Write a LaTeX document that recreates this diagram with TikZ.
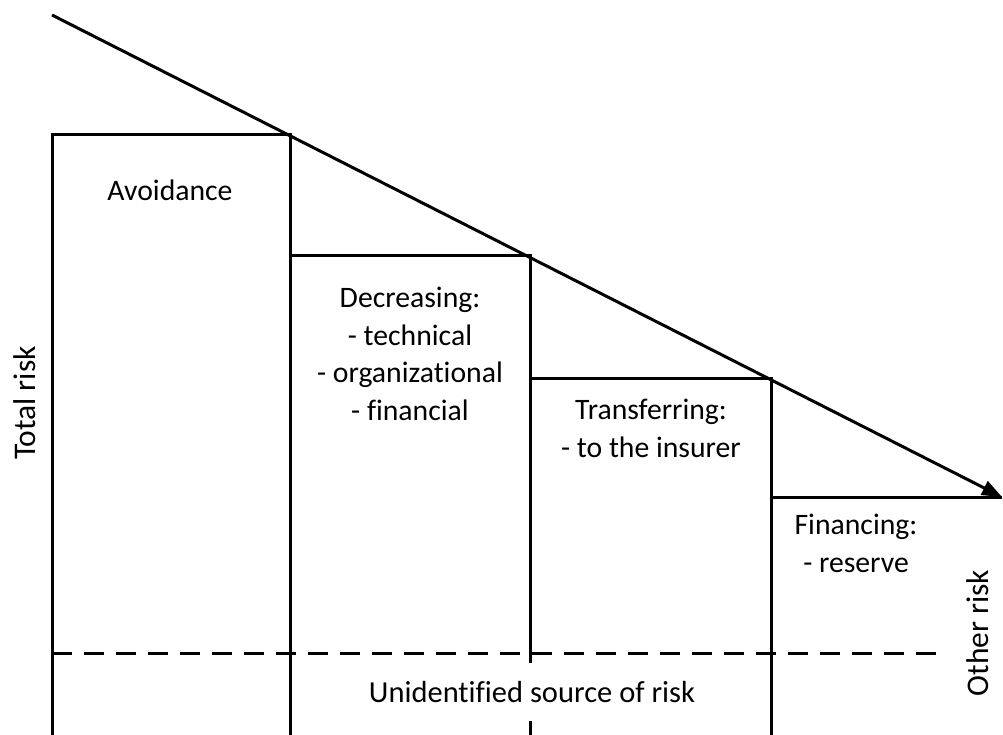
\documentclass[tikz,border=0pt]{standalone}
\usepackage{fontspec}
\setmainfont[Ligatures=NoCommon]{Carlito}
\usetikzlibrary{arrows.meta}
\begin{document}
\begin{tikzpicture}[x=1pt,y=-1pt,
  ln/.style={line width=3pt},
  lbl/.style={font=\fontsize{29.7}{37.5}\selectfont, align=center, inner sep=0pt},
  big/.style={font=\fontsize{31.5}{37.5}\selectfont},
  dsh/.style={line width=3pt, dash pattern=on 20pt off 12pt}]
\useasboundingbox (0,0) rectangle (1003,734);
\coordinate (s) at (52,15);
\coordinate (tip) at (1002,497);
\coordinate (a1) at (52,736);
\coordinate (a2) at (52,134);
\coordinate (b1) at (290,134);
\coordinate (b2) at (290,736);
\coordinate (b3) at (290,255);
\coordinate (c1) at (530,255);
\coordinate (c2) at (530,736);
\coordinate (c3) at (530,378);
\coordinate (d1) at (771,378);
\coordinate (d2) at (771,736);
\coordinate (d3) at (771,497);
\coordinate (e1) at (52,653);
\coordinate (e2) at (945,653);
% boxes
\draw[ln] (a1) -- (a2) -- (b1) -- (b2);
\draw[ln] (b3) -- (c1) -- (c2);
\draw[ln] (c3) -- (d1) -- (d2);
\draw[ln] (d3) -- (tip);
% diagonal
\draw[ln, -{Triangle[length=20pt,width=15pt]}] (s) -- (tip);
% dashed
\draw[dsh] (e1) -- (e2);
% labels
\node[lbl] (av) at (170,190) {Avoidance};
\node[lbl, anchor=north] (de) at (410,287) {Decreasing:\\- technical\\- organizational\\- financial};
\node[lbl, anchor=north] (tr) at (651,399) {Transferring:\\- to the insurer};
\node[lbl, anchor=north] (fi) at (856,514) {Financing:\\- reserve};
\node[lbl, big, rotate=90] (tot) at (25,403) {Total risk};
\node[lbl, big, rotate=90] (oth) at (978,633) {Other risk};
\node[lbl, font=\fontsize{30.5}{37.5}\selectfont, fill=white, minimum height=58pt, inner xsep=4pt] (un) at (532,692) {Unidentified source of risk};
\end{tikzpicture}
\end{document}
